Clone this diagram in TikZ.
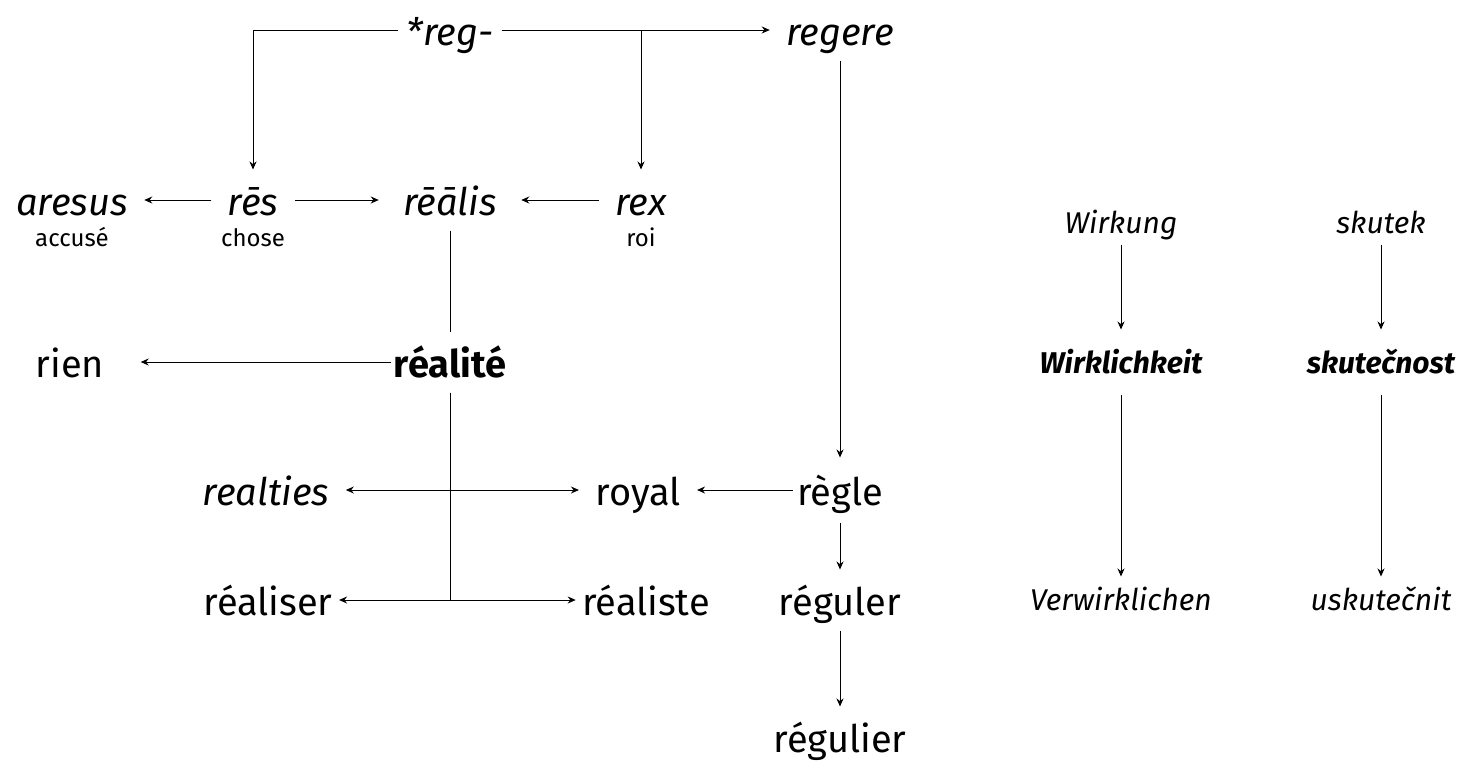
\documentclass[tikz,border=0pt]{standalone}
\usepackage{fontspec}
\setmainfont{Fira Sans}
\usetikzlibrary{arrows.meta,positioning}

\begin{document}
\begin{tikzpicture}[x=0.5pt,y=-0.5pt,>={Stealth[length=4pt,width=3.5pt]},line width=0.5pt,
  w/.style={font=\fontsize{19}{21}\selectfont,text height=17pt,text depth=2pt,inner xsep=8pt,inner ysep=5.5pt},
  wi/.style={w,font=\fontsize{19}{21}\selectfont\itshape},
  wb/.style={w,font=\fontsize{19}{21}\selectfont\bfseries},
  gloss/.style={font=\fontsize{12}{14}\selectfont,text height=9pt,text depth=2pt,inner sep=1pt},
  de/.style={font=\fontsize{15}{17}\selectfont\itshape,text height=13pt,text depth=2pt,inner xsep=5pt,inner ysep=3.5pt},
  deb/.style={de,font=\fontsize{15}{17}\selectfont\bfseries\itshape,inner ysep=8.5pt}]
  \useasboundingbox (0,0) rectangle (1480,762);
  % latin roots
  \node[wi,inner xsep=4pt] (reg) at (450,30) {*reg-};
  \node[wi] (regere) at (840,30) {regere};
  \node[wi] (aresus) at (72,200) {aresus};
  \node[wi] (res) at (253,200) {rēs};
  \node[wi,inner xsep=12pt] (realis) at (450,200) {rēālis};
  \node[wi] (rex) at (641,200) {rex};
  \node[gloss,below=-2.5pt of aresus] (accuse) {accusé};
  \node[gloss,below=-2.5pt of res] (chose) {chose};
  \node[gloss,below=-2.5pt of rex] (roi) {roi};
  % french
  \node[w,inner xsep=18pt] (rien) at (70,362) {rien};
  \node[wb,inner xsep=1pt] (realite) at (450,362) {réalité};
  \node[wi] (realties) at (266,490) {realties};
  \node[w] (royal) at (638,490) {royal};
  \node[w,inner xsep=2pt,inner ysep=6.5pt] (regle) at (840,490) {règle};
  \node[w,inner xsep=3pt] (realiser) at (268,600) {réaliser};
  \node[w,inner xsep=3pt] (realiste) at (646,600) {réaliste};
  \node[w] (reguler) at (840,600) {réguler};
  \node[w] (regulier) at (840,737) {régulier};
  % german, czech
  \node[de] (wirkung) at (1121,222) {Wirkung};
  \node[deb] (wirklichkeit) at (1121,362) {Wirklichkeit};
  \node[de] (verwirklichen) at (1121,599) {Verwirklichen};
  \node[de] (skutek) at (1381,222) {skutek};
  \node[deb] (skutecnost) at (1381,362) {skutečnost};
  \node[de] (uskutecnit) at (1381,599) {uskutečnit};

  \draw[->] (reg) -| (res);
  \draw[->] (reg) -- (regere);
  \draw[->] (reg) -| (rex);
  \draw[->] (res) -- (aresus);
  \draw[->] (res) -- (realis);
  \draw[->] (rex) -- (realis);
  \draw (realis) -- (realite);
  \draw[->] (realite) -- (rien);
  \draw[->] (realite) |- (realiser);
  \draw[->] (realite) |- (realiste);
  \draw[<->] (realties) -- (royal);
  \draw[->] (regle) -- (royal);
  \draw[->] (regere) -- (regle);
  \draw[->] (regle) -- (reguler);
  \draw[->] (reguler) -- (regulier);
  \draw[->] (wirkung) -- (wirklichkeit);
  \draw[->] (wirklichkeit) -- (verwirklichen);
  \draw[->] (skutek) -- (skutecnost);
  \draw[->] (skutecnost) -- (uskutecnit);
\end{tikzpicture}
\end{document}
